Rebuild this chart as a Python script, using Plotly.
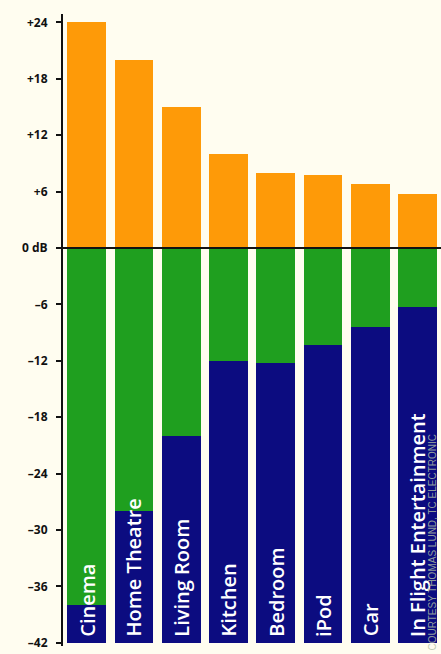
import plotly.graph_objects as go

# Listening environments, left to right
categories = ["Cinema", "Home Theatre", "Living Room", "Kitchen",
              "Bedroom", "iPod", "Car", "In Flight Entertainment"]

# Peak headroom above the 0 dB reference (orange)
peak_headroom = [24, 20, 15, 10, 8, 7.8, 6.8, 5.8]

# Lower edge of the usable range below 0 dB (green ends / navy begins)
usable_floor = [-38, -28, -20, -12, -12.2, -10.3, -8.4, -6.3]

# Bottom of the scale (navy bars run down to here)
scale_bottom = -42

tick_values = [24, 18, 12, 6, 0, -6, -12, -18, -24, -30, -36, -42]
tick_labels = ["+24", "+18", "+12", "+6", "0 dB", "\u20136", "\u201312", "\u201318",
               "\u201324", "\u201330", "\u201336", "\u201342"]

ORANGE = "#FE9A08"
GREEN = "#1F9F1F"
NAVY = "#0C0C80"
BG = "#FFFDF0"

bar_w = 0.82

fig = go.Figure()

fig.add_trace(go.Bar(
    x=categories, y=peak_headroom, base=0,
    marker=dict(color=ORANGE, line=dict(width=0)), width=bar_w,
    hoverinfo="skip", showlegend=False,
))
fig.add_trace(go.Bar(
    x=categories, y=usable_floor, base=0,
    marker=dict(color=GREEN, line=dict(width=0)), width=bar_w,
    hoverinfo="skip", showlegend=False,
))
fig.add_trace(go.Bar(
    x=categories, y=[f - scale_bottom for f in usable_floor], base=scale_bottom,
    marker=dict(color=NAVY, line=dict(width=0)), width=bar_w,
    hoverinfo="skip", showlegend=False,
))

# Environment names written up the inside of each bar
for cat in categories:
    fig.add_annotation(
        x=cat, y=scale_bottom + 0.45, xref="x", yref="y",
        text=cat, textangle=-90, showarrow=False,
        xanchor="center", yanchor="bottom",
        font=dict(family="Open Sans", size=20, color="white", weight=600),
    )

# Credit line along the right edge
fig.add_annotation(
    x=0.978, y=-0.01, xref="paper", yref="paper",
    text="COURTESY THOMAS LUND, TC ELECTRONIC", textangle=-90, showarrow=False,
    xanchor="center", yanchor="bottom",
    font=dict(family="Liberation Sans Narrow, Liberation Sans", size=10,
              color="rgba(180,195,165,0.8)"),
)

# 0 dB reference line
fig.add_shape(type="line", xref="paper", yref="y", x0=0, x1=1, y0=0, y1=0,
              line=dict(color="#111111", width=2), layer="above")

fig.update_layout(
    width=441, height=654,
    margin=dict(l=63, r=0, t=14, b=8),
    paper_bgcolor=BG, plot_bgcolor=BG,
    barmode="overlay", bargap=0,
    xaxis=dict(range=[-0.5, 7.5], showticklabels=False, showgrid=False,
               zeroline=False, showline=False, ticks=""),
    yaxis=dict(range=[-42.34, 24.9], tickvals=tick_values, ticktext=tick_labels,
               ticks="outside", ticklen=5, tickwidth=2, tickcolor="#111111",
               showline=True, linewidth=2, linecolor="#111111",
               showgrid=False, zeroline=False, ticklabelstandoff=6,
               tickfont=dict(family="Open Sans", size=12, color="#111111", weight="bold")),
)

fig.write_html("out.html")
